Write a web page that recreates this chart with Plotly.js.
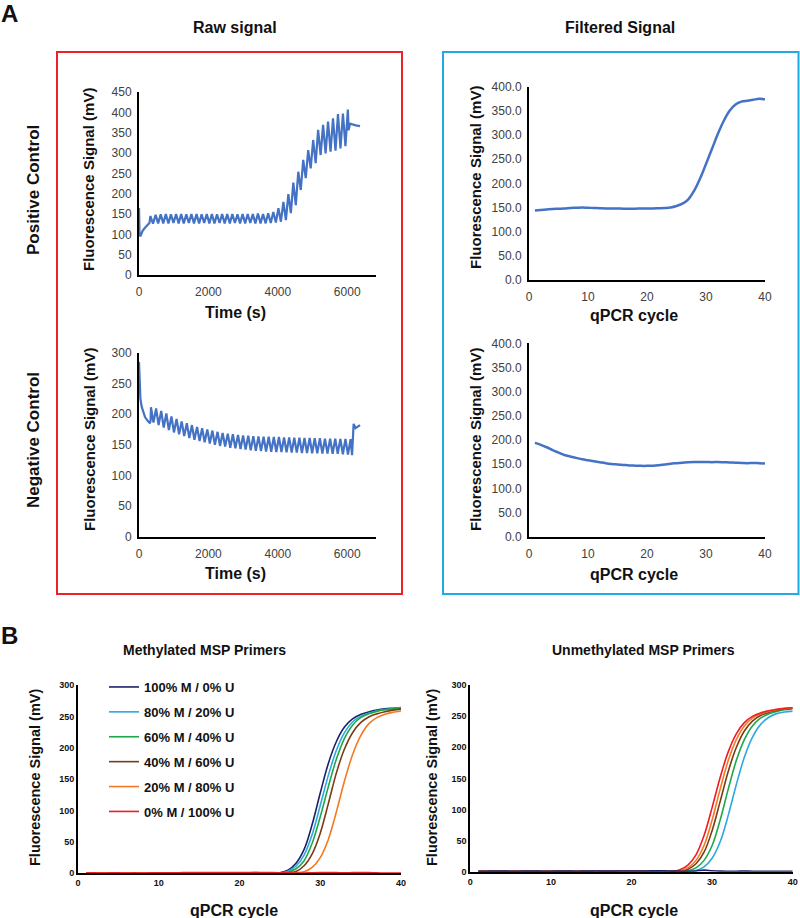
<!DOCTYPE html>
<html>
<head>
<meta charset="utf-8">
<script src="https://cdn.plot.ly/plotly-3.0.1.min.js"></script>
<style>html,body{margin:0;padding:0;background:#fff;}#chart{width:800px;height:918px;}</style>
</head>
<body>
<div id="chart"></div>
<script>
// ---------- Panel A : raw signal, positive control ----------
const rawPosTime = [0,8,15,40,100,160,220,280,300,
 330,404,478,552,625,699,773,847,920,994,1068,1142,1215,1289,1363,1437,1510,1584,1658,1732,
 1805,1879,1953,2027,2100,2174,2248,2322,2395,2469,2543,2617,2690,2764,2838,2912,2985,3059,
 3133,3207,3280,3354,3428,3502,3575,3649,3723,3797,3870,3944,4018,4090,4161,4233,4304,4376,
 4447,4519,4590,4662,4733,4805,4876,4948,5019,5091,5162,5234,5305,5377,5448,5520,5591,5663,
 5734,5806,5877,5949,6019,6040,6080,6150,6250,6370];
const rawPosSignal = [165,140,100,95,108,115,120,124,128,
 145,126,148,127,149,127,150,127,149,128,150,127,150,127,149,128,150,127,150,127,
 149,128,150,127,150,127,149,128,150,127,150,127,150,128,149,127,150,127,
 150,128,150,127,151,127,150,127,152,128,155,129,164,131,180,135,199,152,
 227,172,254,209,283,238,307,262,332,275,357,295,369,299,377,303,385,306,
 396,311,397,317,407,356,372,370,368,366];

// ---------- Panel A : raw signal, negative control ----------
const rawNegTime = [0,15,40,77,120,173,250,317,335,
 345,417,493,565,640,712,788,860,935,1007,1083,1155,1230,1302,1378,1450,1525,1597,1673,1745,
 1820,1892,1968,2040,2115,2187,2263,2335,2410,2482,2558,2630,2705,2777,2853,2925,3000,3072,
 3148,3220,3295,3367,3443,3515,3590,3662,3738,3810,3885,3957,4033,4105,4180,4252,4328,4400,
 4475,4547,4623,4695,4770,4842,4918,4990,5065,5137,5213,5285,5360,5432,5508,5580,5655,5727,
 5803,5875,5950,6022,6098,6140,6160,6185,6240,6300,6370];
const rawNegSignal = [285,250,225,212,203,195,189,185,190,
 211,186,209,182,205,178,201,174,196,170,192,167,188,164,185,161,182,158,179,156,
 177,154,175,152,173,150,171,148,169,147,168,145,167,144,166,143,165,142,
 164.5,141,164,140,163.5,139.5,163,139,163,138.5,162.5,138,162.5,138,162,137.5,162,137,
 161.5,137,161.5,136.5,161,136.5,161,136,160.5,136,160.5,135.5,160,135.5,160,135,160,135,
 159.5,134.5,159.5,134,159,133,150,184,177,180,182];

// ---------- Panel A : filtered signal ----------
const cycles = [1,2,3,4,5,6,7,8,9,10,11,12,13,14,15,16,17,18,19,20,21,22,23,24,25,26,27,28,29,30,31,32,33,34,35,36,37,38,39,40];
const filtPos = [144,145,146,147,147.5,148,149,149.5,150,149.5,149,148.5,148,148,148,147.5,147.5,147.5,148,148,
 148,148.5,149,150,153,158,167,185,210,240,271,302,329,350,363,369,371,373,375,374];
const filtNeg = [194,190,185,179,174,169,166,163,160,158,156,154,152,150.5,149.5,148.5,147.5,147,146.5,146.5,
 147,148,149.5,151,152,153,154,154.5,154.5,154.5,154,154.5,154,153.5,153,152.5,152,152.5,152,151.5];

// ---------- Panel B : MSP primers ----------
const seriesNames = ["100% M / 0% U","80% M / 20% U","60% M / 40% U","40% M / 60% U","20% M / 80% U","0% M / 100% U"];
const seriesColors = ["#1b2266","#2ea8e0","#1fa84a","#7a3b17","#f47a20","#ee1c24"];

const methM100 = [0.3,0.3,0.3,0.3,0.3,0.3,0.3,0.3,0.3,0.3,0.3,0.3,0.3,0.3,0.3,0.3,0.3,0.3,0.3,0.3,0.3,0.3,0.3,0.3,
 1,5,16,38,78,128,175,210,233,246,253,257,260,262,263,264];
const methM80 = [0.3,0.3,0.3,0.3,0.3,0.3,0.3,0.3,0.3,0.3,0.3,0.3,0.3,0.3,0.3,0.3,0.3,0.3,0.3,0.3,0.3,0.3,0.3,0.3,
 0.6,3.4,11.6,29,62,108,156,196,224,241,250,255,259,261,262.5,263.5];
const methM60 = [0.4,0.4,0.4,0.4,0.4,0.4,0.4,0.4,0.4,0.4,0.4,0.4,0.4,0.4,0.4,0.4,0.4,0.4,0.4,0.4,0.4,0.4,0.4,0.4,
 0.4,1.8,7.2,20,48,90,138,182,215,236,248,254,258,260.5,262,263];
const methM40 = [0.4,0.4,0.4,0.4,0.4,0.4,0.4,0.4,0.4,0.4,0.4,0.4,0.4,0.4,0.4,0.4,0.4,0.4,0.4,0.4,0.4,0.4,0.4,0.4,
 0.4,0.8,3,12,31,64,111,160,198,224,240,249,254,257.5,260,261.5];
const methM20 = [0.8,0.8,0.8,0.8,0.8,0.8,0.8,0.8,0.8,0.8,0.8,0.8,0.8,0.8,0.8,0.8,0.8,0.8,0.8,0.8,0.8,0.8,0.8,0.8,
 0.8,0.8,0.8,2.6,9.4,25,54,98,147,189,219,238,248,253.5,256.5,258.5];
const methM0 = [0.5,0.6,0.5,0.7,0.6,0.5,0.6,0.5,0.6,0.7,0.8,0.9,1.0,1.2,1.3,1.3,1.2,1.2,1.3,1.2,
 1.3,1.4,1.3,1.0,0.8,0.6,0.5,0.5,0.8,1.0,1.2,1.0,0.8,1.0,1.2,1.0,0.6,0.4,0.3,0.3];

const unmethM100 = [0.8,0.8,0.9,0.9,0.8,0.8,0.9,0.9,0.8,0.8,0.9,0.9,0.8,0.9,1.0,1.0,0.9,1.0,1.1,1.1,
 1.2,1.2,1.3,1.4,1.0,0.8,0.8,1.2,2.5,1.5,0.9,0.8,0.8,0.9,0.8,0.8,0.7,0.7,0.8,0.8];
const unmethM80 = [0.5,0.5,0.5,0.5,0.5,0.5,0.5,0.5,0.5,0.5,0.5,0.5,0.5,0.5,0.5,0.5,0.5,0.5,0.5,0.5,0.5,0.5,0.5,0.5,
 0.5,0.5,0.5,2,7.75,21.5,48,90.5,139.8,183.8,215.8,236.3,247.8,254,256.5,258];
const unmethM60 = [0.3,0.3,0.3,0.3,0.3,0.3,0.3,0.3,0.3,0.3,0.3,0.3,0.3,0.3,0.3,0.3,0.3,0.3,0.3,0.3,0.3,0.3,0.3,0.3,
 0.3,0.3,1.4,6.1,18.2,42,83,132.7,178.5,212.3,234.3,246.7,253.4,257.3,260.2,262.1];
const unmethM40 = [0.4,0.4,0.4,0.4,0.4,0.4,0.4,0.4,0.4,0.4,0.4,0.4,0.4,0.4,0.4,0.4,0.4,0.4,0.4,0.4,0.4,0.4,0.4,0.4,
 0.4,0.7,3.8,12.7,31.4,66,113,161,199.5,226,242,251,256,259,261.4,262.7];
const unmethM20 = [0.4,0.4,0.4,0.4,0.4,0.4,0.4,0.4,0.4,0.4,0.4,0.4,0.4,0.4,0.4,0.4,0.4,0.4,0.4,0.4,0.4,0.4,0.4,0.4,
 0.4,1.4,6.1,18.2,42,83,132.7,178.5,212.3,234.3,246.7,253.4,257.3,260.2,262.1,263.1];
const unmethM0 = [0.5,0.5,0.5,0.5,0.5,0.5,0.5,0.5,0.5,0.5,0.5,0.5,0.5,0.5,0.5,0.5,0.5,0.5,0.5,0.5,0.5,0.5,0.5,0.5,
 0.5,3,10.5,27,58,103,151.5,192.5,221.5,239.5,249.5,255,258.5,261,262.5,263.5];

const rawTicks = [0,2000,4000,6000];
const posTicks = [0,50,100,150,200,250,300,350,400,450];
const negTicks = [0,50,100,150,200,250,300];
const filtTicks = [0,50,100,150,200,250,300,350,400];
const cycleTicks = [0,10,20,30,40];
const mspTicks = [0,50,100,150,200,250,300];

// ---------- build ----------
const W = 800, H = 918;
const px = v => v / W;
const py = v => (H - v) / H;
const blue = "#4472c4";
const sans = "Liberation Sans, Arial, sans-serif";

const traces = [
 {x: rawPosTime, y: rawPosSignal, xaxis: "x", yaxis: "y", mode: "lines", line: {color: blue, width: 2.2}, showlegend: false},
 {x: rawNegTime, y: rawNegSignal, xaxis: "x2", yaxis: "y2", mode: "lines", line: {color: blue, width: 2.2}, showlegend: false},
 {x: cycles, y: filtPos, xaxis: "x3", yaxis: "y3", mode: "lines", line: {color: blue, width: 2.5, shape: "spline"}, showlegend: false},
 {x: cycles, y: filtNeg, xaxis: "x4", yaxis: "y4", mode: "lines", line: {color: blue, width: 2.5, shape: "spline"}, showlegend: false}
];
const methSeries = [methM100, methM80, methM60, methM40, methM20, methM0];
methSeries.forEach((s, i) => traces.push({
  x: cycles, y: s, xaxis: "x5", yaxis: "y5", mode: "lines", name: seriesNames[i],
  legendgroup: "g" + i, line: {color: seriesColors[i], width: 1.6, shape: "spline"}
}));
const unmethSeries = [unmethM80, unmethM60, unmethM40, unmethM20, unmethM0, unmethM100];
const unmethIdx = [1, 2, 3, 4, 5, 0];
unmethSeries.forEach((s, j) => traces.push({
  x: cycles, y: s, xaxis: "x6", yaxis: "y6", mode: "lines", name: seriesNames[unmethIdx[j]],
  showlegend: false, line: {color: seriesColors[unmethIdx[j]], width: 1.6, shape: "spline"}
}));

function axA(domain, range, ticks, fmt, isX) {
  return {domain: domain, range: range, tickvals: ticks, tickformat: fmt || "", showline: true,
    linecolor: "#000", linewidth: 2, showgrid: false, zeroline: false, ticks: "",
    ticklabelstandoff: isX ? 5 : 3,
    tickfont: {family: sans, size: 12, color: "#404040"}, fixedrange: true};
}
function axB(domain, range, ticks) {
  return {domain: domain, range: range, tickvals: ticks, showline: true, linecolor: "#000", linewidth: 2,
    showgrid: false, zeroline: false, ticks: "", tickfont: {family: sans, size: 9, color: "#111", weight: "bold"}, fixedrange: true};
}

const layout = {
  width: W, height: H, margin: {l: 0, r: 0, t: 0, b: 0}, paper_bgcolor: "#fff", plot_bgcolor: "rgba(0,0,0,0)",
  xaxis: Object.assign(axA([px(139), px(376)], [0, 6830], rawTicks, "", true), {anchor: "y"}),
  yaxis: Object.assign(axA([py(275), py(92)], [0, 450], posTicks), {anchor: "x"}),
  xaxis2: Object.assign(axA([px(139), px(376)], [0, 6830], rawTicks, "", true), {anchor: "y2"}),
  yaxis2: Object.assign(axA([py(536.7), py(352.7)], [0, 300], negTicks), {anchor: "x2"}),
  xaxis3: Object.assign(axA([px(529), px(765)], [0, 40], cycleTicks, "", true), {anchor: "y3"}),
  yaxis3: Object.assign(axA([py(280), py(86.7)], [0, 400], filtTicks, ".1f"), {anchor: "x3"}),
  xaxis4: Object.assign(axA([px(529), px(765)], [0, 40], cycleTicks, "", true), {anchor: "y4"}),
  yaxis4: Object.assign(axA([py(536.7), py(343.3)], [0, 400], filtTicks, ".1f"), {anchor: "x4"}),
  xaxis5: Object.assign(axB([px(78), px(401)], [0, 40], cycleTicks), {anchor: "y5"}),
  yaxis5: Object.assign(axB([py(873.3), py(685)], [0, 300], mspTicks), {anchor: "x5"}),
  xaxis6: Object.assign(axB([px(470.3), px(792.7)], [0, 40], cycleTicks), {anchor: "y6"}),
  yaxis6: Object.assign(axB([py(871.7), py(685)], [0, 300], mspTicks), {anchor: "x6"}),
  showlegend: true,
  legend: {x: px(104), y: py(672), xanchor: "left", yanchor: "top", bgcolor: "rgba(0,0,0,0)",
    font: {family: sans, size: 13, color: "#111", weight: "bold"}, tracegroupgap: 5, itemwidth: 30},
  shapes: [
    {type: "rect", xref: "paper", yref: "paper", x0: px(57), x1: px(402), y0: py(594), y1: py(52), line: {color: "#ec2228", width: 2}},
    {type: "rect", xref: "paper", yref: "paper", x0: px(443), x1: px(798.5), y0: py(594), y1: py(52), line: {color: "#22a8e2", width: 2}}
  ],
  annotations: []
};

function ann(text, x, y, size, angle, xanchor) {
  layout.annotations.push({text: text, xref: "paper", yref: "paper", x: px(x), y: py(y),
    xanchor: xanchor || "center", yanchor: "middle", showarrow: false, textangle: angle || 0,
    font: {family: sans, size: size, color: "#111"}});
}
ann("<b>A</b>", -1, 13, 24, 0, "left");
ann("<b>B</b>", -1, 635, 24, 0, "left");
ann("<b>Raw signal</b>", 235, 28, 16);
ann("<b>Filtered Signal</b>", 620, 28, 16);
ann("<b>Positive Control</b>", 33, 190, 17, -90);
ann("<b>Negative Control</b>", 33, 440, 17, -90);
ann("<b>Methylated MSP Primers</b>", 205, 650, 14);
ann("<b>Unmethylated MSP Primers</b>", 643, 650, 14);
const yTitle = "<b>Fluorescence Signal (mV)</b>";
ann(yTitle, 89, 180, 15, -90);
ann(yTitle, 89, 440, 15, -90);
ann(yTitle, 475, 178, 15, -90);
ann(yTitle, 475, 440, 15, -90);
ann(yTitle, 35, 778, 14.5, -90);
ann(yTitle, 432, 778, 14.5, -90);
ann("<b>Time (s)</b>", 235, 312, 16);
ann("<b>Time (s)</b>", 235, 573, 16);
ann("<b>qPCR cycle</b>", 634, 315, 16);
ann("<b>qPCR cycle</b>", 634, 575, 16);
ann("<b>qPCR cycle</b>", 234, 910, 16);
ann("<b>qPCR cycle</b>", 634, 910, 16);

Plotly.newPlot("chart", traces, layout, {staticPlot: true, displayModeBar: false});
</script>
</body>
</html>
